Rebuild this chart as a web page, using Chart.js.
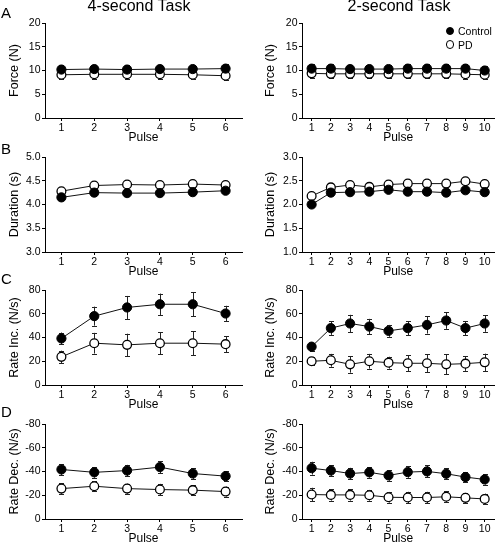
<!DOCTYPE html>
<html><head><meta charset="utf-8">
<script src="https://cdn.jsdelivr.net/npm/chart.js@4.4.1/dist/chart.umd.min.js"></script>
<style>
html,body{margin:0;padding:0;background:#fff;}
body{width:500px;height:544px;position:relative;overflow:hidden;font-family:"Liberation Sans",Arial,Helvetica,sans-serif;color:#000;}
canvas{position:absolute;}
.t{position:absolute;font-size:16px;line-height:16px;text-align:center;width:250px;white-space:nowrap;z-index:2;}
.L{position:absolute;font-size:15px;line-height:15px;z-index:2;}
.lg{position:absolute;font-size:10.5px;line-height:12px;z-index:2;white-space:nowrap;}
.dot{position:absolute;width:8.6px;height:8.6px;border-radius:50%;box-sizing:border-box;border:1.3px solid #000;z-index:2;}
</style></head><body>
<div class="t" style="left:14px;top:-2px">4-second Task</div>
<div class="t" style="left:274px;top:-2px">2-second Task</div>
<div class="L" style="left:1px;top:5px">A</div>
<div class="L" style="left:1px;top:141px">B</div>
<div class="L" style="left:1px;top:271px">C</div>
<div class="L" style="left:1px;top:404px">D</div>
<div class="dot" style="left:445.7px;top:26.7px;background:#000"></div>
<div class="dot" style="left:445.7px;top:40.2px;background:#fff"></div>
<div class="lg" style="left:458px;top:25px">Control</div>
<div class="lg" style="left:458px;top:38.5px">PD</div>
<script>
// ---- data ----
const pulses6 = ['1','2','3','4','5','6'];
const pulses10 = ['1','2','3','4','5','6','7','8','9','10'];

const forceTicks = [0,5,10,15,20];
const durTicks4 = [3.0,3.5,4.0,4.5,5.0];
const durTicks2 = [1.0,1.5,2.0,2.5,3.0];
const rateIncTicks = [0,20,40,60,80];
const rateDecTicks = [-80,-60,-40,-20,0];

const forceCtl4 = [10.2,10.3,10.2,10.3,10.3,10.4];
const forceCtl4Err = [0.9,0.9,0.9,0.9,0.9,0.9];
const forcePD4 = [9.1,9.2,9.2,9.2,9.1,8.9];
const forcePD4Err = [0.9,0.9,0.9,0.9,0.9,0.9];
const forceCtl2 = [10.4,10.4,10.3,10.3,10.3,10.4,10.4,10.4,10.4,10.0];
const forceCtl2Err = [0.9,0.9,0.9,0.9,0.9,0.9,0.9,0.9,0.9,0.9];
const forcePD2 = [9.4,9.3,9.3,9.3,9.3,9.3,9.3,9.3,9.2,9.1];
const forcePD2Err = [0.9,0.9,0.9,0.9,0.9,0.9,0.9,0.9,0.9,0.9];

const durCtl4 = [4.15,4.25,4.24,4.24,4.26,4.29];
const durPD4 = [4.28,4.40,4.42,4.41,4.43,4.41];
const durCtl2 = [2.00,2.25,2.26,2.27,2.31,2.27,2.27,2.25,2.30,2.26];
const durPD2 = [2.18,2.36,2.41,2.37,2.42,2.44,2.44,2.44,2.49,2.43];

const incCtl4 = [39.2,58.0,65.3,68.0,68.0,60.2];
const incCtl4Err = [5.0,8.0,9.7,9.0,10.0,6.5];
const incPD4 = [23.7,35.2,33.8,35.2,35.2,34.4];
const incPD4Err = [5.2,8.7,9.4,9.3,10.0,6.8];
const incCtl2 = [32.3,47.9,51.8,49.2,45.6,47.9,50.6,54.3,47.9,51.8];
const incCtl2Err = [3.3,5.7,7.3,6.5,5.0,6.0,7.3,7.0,6.0,7.0];
const incPD2 = [20.0,20.8,17.4,20.0,18.8,18.3,18.3,17.4,18.0,19.1];
const incPD2Err = [3.4,5.4,7.0,6.2,5.0,6.8,7.5,8.4,6.1,7.3];

const decCtl4 = [-41.7,-39.3,-40.8,-43.7,-38.3,-36.1];
const decCtl4Err = [4.6,4.5,4.8,5.0,4.5,4.0];
const decPD4 = [-25.6,-27.6,-25.6,-24.8,-24.3,-23.1];
const decPD4Err = [4.3,4.3,4.2,4.8,4.2,4.2];
const decCtl2 = [-42.8,-40.8,-38.3,-39.3,-36.7,-39.5,-40.1,-38.1,-35.3,-33.3];
const decCtl2Err = [5.4,4.5,4.8,4.5,4.5,4.8,5.1,4.8,4.3,4.3];
const decPD2 = [-20.6,-20.3,-20.3,-20.0,-18.3,-18.1,-18.1,-18.7,-17.8,-16.9];
const decPD2Err = [5.7,4.8,4.8,4.5,4.5,4.8,4.8,4.8,4.2,4.5];

// ---- panels ----
const panels = [
  {row:0,col:0,labels:pulses6,ctl:forceCtl4,ctlErr:forceCtl4Err,pd:forcePD4,pdErr:forcePD4Err,ticks:forceTicks,title:'Force (N)',dec:0},
  {row:0,col:1,labels:pulses10,ctl:forceCtl2,ctlErr:forceCtl2Err,pd:forcePD2,pdErr:forcePD2Err,ticks:forceTicks,title:'Force (N)',dec:0},
  {row:1,col:0,labels:pulses6,ctl:durCtl4,ctlErr:null,pd:durPD4,pdErr:null,ticks:durTicks4,title:'Duration (s)',dec:1},
  {row:1,col:1,labels:pulses10,ctl:durCtl2,ctlErr:null,pd:durPD2,pdErr:null,ticks:durTicks2,title:'Duration (s)',dec:1},
  {row:2,col:0,labels:pulses6,ctl:incCtl4,ctlErr:incCtl4Err,pd:incPD4,pdErr:incPD4Err,ticks:rateIncTicks,title:'Rate Inc. (N/s)',dec:0},
  {row:2,col:1,labels:pulses10,ctl:incCtl2,ctlErr:incCtl2Err,pd:incPD2,pdErr:incPD2Err,ticks:rateIncTicks,title:'Rate Inc. (N/s)',dec:0},
  {row:3,col:0,labels:pulses6,ctl:decCtl4,ctlErr:decCtl4Err,pd:decPD4,pdErr:decPD4Err,ticks:rateDecTicks,title:'Rate Dec. (N/s)',dec:0,reverse:true},
  {row:3,col:1,labels:pulses10,ctl:decCtl2,ctlErr:decCtl2Err,pd:decPD2,pdErr:decPD2Err,ticks:rateDecTicks,title:'Rate Dec. (N/s)',dec:0,reverse:true}
];

const rowTops = [23, 157, 290, 424];
const PLOT_H = 95, TOP_PAD = 12, XAX_H = 32;

Chart.defaults.font.family = '"Liberation Sans", Arial, Helvetica, sans-serif';
Chart.defaults.color = '#000';

const errorBarPlugin = {
  id: 'errbars',
  beforeDatasetsDraw(chart) {
    const ctx = chart.ctx, ys = chart.scales.y;
    chart.data.datasets.forEach((ds, di) => {
      if (!ds.errors) return;
      const meta = chart.getDatasetMeta(di);
      ctx.save();
      ctx.strokeStyle = '#222';
      ctx.lineWidth = 1;
      meta.data.forEach((pt, i) => {
        const e = ds.errors[i];
        if (!e) return;
        const v = ds.data[i];
        const y1 = ys.getPixelForValue(v - e), y2 = ys.getPixelForValue(v + e);
        const x = Math.round(pt.x) + 0.5;
        ctx.beginPath();
        ctx.moveTo(x, y1); ctx.lineTo(x, y2);
        ctx.moveTo(x - 2.5, Math.round(y1) + 0.5); ctx.lineTo(x + 2.5, Math.round(y1) + 0.5);
        ctx.moveTo(x - 2.5, Math.round(y2) + 0.5); ctx.lineTo(x + 2.5, Math.round(y2) + 0.5);
        ctx.stroke();
      });
      ctx.restore();
    });
  }
};

panels.forEach(p => {
  const cv = document.createElement('canvas');
  const W = 250, H = TOP_PAD + PLOT_H + XAX_H;
  cv.width = W; cv.height = H;
  cv.style.width = W + 'px'; cv.style.height = H + 'px';
  cv.style.left = (p.col * 250) + 'px';
  cv.style.top = (rowTops[p.row] - TOP_PAD) + 'px';
  document.body.appendChild(cv);
  const left = p.col === 0;
  new Chart(cv, {
    type: 'line',
    data: {
      labels: p.labels,
      datasets: [
        {label: 'Control', data: p.ctl, errors: p.ctlErr, borderColor: '#111', borderWidth: 1,
         pointBackgroundColor: '#000', pointBorderColor: '#000', pointBorderWidth: 1, pointRadius: 4.6, tension: 0},
        {label: 'PD', data: p.pd, errors: p.pdErr, borderColor: '#111', borderWidth: 1,
         pointBackgroundColor: '#fff', pointBorderColor: '#000', pointBorderWidth: 1.3, pointRadius: 4.4, tension: 0}
      ]
    },
    options: {
      responsive: false, animation: false, devicePixelRatio: 1,
      layout: {padding: {top: TOP_PAD, bottom: 0, left: 0, right: left ? 8 : 0}},
      plugins: {legend: {display: false}, tooltip: {enabled: false}},
      events: [],
      scales: {
        x: {
          type: 'category', offset: true,
          afterFit: s => { s.height = XAX_H; },
          grid: {display: true, drawOnChartArea: false, drawTicks: true, tickLength: 3, color: '#000', lineWidth: 1},
          border: {display: true, color: '#000', width: 1},
          ticks: {font: {size: 10.5, lineHeight: 1}, color: '#000', padding: 1.5, maxRotation: 0, autoSkip: false},
          title: {display: true, text: 'Pulse', font: {size: 12, lineHeight: 1}, color: '#000', padding: {top: 0, bottom: 6.5}}
        },
        y: {
          min: p.ticks[0], max: p.ticks[p.ticks.length - 1], reverse: !!p.reverse,
          afterFit: s => { s.width = left ? 45 : 52; },
          afterBuildTicks: s => { s.ticks = p.ticks.map(v => ({value: v})); },
          grid: {display: true, drawOnChartArea: false, drawTicks: true, tickLength: 3, color: '#000', lineWidth: 1},
          border: {display: true, color: '#000', width: 1},
          ticks: {font: {size: 10.5}, color: '#000', padding: 1.5,
                  callback: v => Number(v).toFixed(p.dec)},
          title: {display: true, text: p.title, font: {size: 12.5, lineHeight: 1}, color: '#000',
                  padding: {top: left ? 8.5 : 14.5, bottom: 0}}
        }
      }
    },
    plugins: [errorBarPlugin]
  });
});
</script>
</body></html>
